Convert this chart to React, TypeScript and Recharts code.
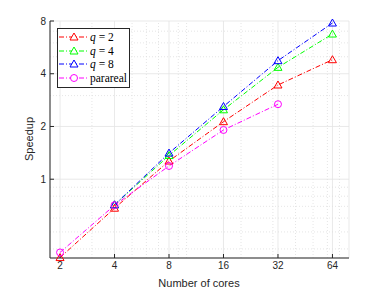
import React from "react";
import {
  LineChart,
  Line,
  XAxis,
  YAxis,
  CartesianGrid,
  ReferenceLine,
  Legend,
} from "recharts";

const cores = [2, 4, 8, 16, 32, 64];
const q2 = [0.357, 0.683, 1.27, 2.13, 3.45, 4.81];
const q4 = [null, 0.714, 1.365, 2.49, 4.35, 6.74];
const q8 = [null, 0.714, 1.41, 2.6, 4.75, 7.79];
const parareal = [0.382, 0.71, 1.19, 1.91, 2.68, null];

const yTicks = [1, 2, 4, 8];
const xMinor = [3, 5, 6, 7, 9, 10, 20, 30, 40, 50, 60, 70];
const yMinor = [0.4, 0.5, 0.6, 0.7, 0.8, 0.9, 3, 5, 6, 7];

const series = [
  { key: "q2", name: "2", color: "#ff0000", marker: "tri" },
  { key: "q4", name: "4", color: "#00ff00", marker: "tri" },
  { key: "q8", name: "8", color: "#0000ff", marker: "tri" },
  { key: "parareal", name: "parareal", color: "#ff00ff", marker: "circ" },
];

const data = cores.map((c, i) => ({
  cores: c,
  q2: q2[i],
  q4: q4[i],
  q8: q8[i],
  parareal: parareal[i],
}));

const AX = "#262626";
const DASH = "5 2 1 2";
const SANS = "'Liberation Sans', Arial, sans-serif";
const SERIF = "'Liberation Serif', 'Times New Roman', serif";

function marker(kind: string, color: string) {
  return (props: any) => {
    const { cx, cy, value, index } = props;
    if (value == null || cx == null || cy == null) return <g key={index} />;
    if (kind === "circ")
      return <circle key={index} cx={cx} cy={cy} r={3.5} fill="none" stroke={color} strokeWidth={1} />;
    return (
      <polygon
        key={index}
        points={`${cx},${cy - 4} ${cx - 4},${cy + 3} ${cx + 4},${cy + 3}`}
        fill="none"
        stroke={color}
        strokeWidth={1}
      />
    );
  };
}

function LegendBox() {
  return (
    <div
      style={{
        border: `1px solid ${AX}`,
        background: "#fff",
        width: 73,
        padding: "1px 0 2px 0",
        boxSizing: "border-box",
      }}
    >
      {series.map((s) => (
        <div key={s.key} style={{ display: "flex", alignItems: "center", height: 13.8 }}>
          <svg width={31} height={12} style={{ flex: "none" }}>
            <line x1={1} x2={29} y1={6} y2={6} stroke={s.color} strokeDasharray={DASH} />
            {s.marker === "tri" ? (
              <polygon points="16,2 12,9 20,9" fill="#fff" stroke={s.color} />
            ) : (
              <circle cx={16} cy={6} r={3.5} fill="#fff" stroke={s.color} />
            )}
          </svg>
          <span
            style={{
              fontFamily: SERIF,
              fontSize: 11.5,
              color: "#000",
              whiteSpace: "nowrap",
              marginLeft: 1,
            }}
          >
            {s.marker === "tri" ? (
              <>
                <i>q</i> = {s.name}
              </>
            ) : (
              s.name
            )}
          </span>
        </div>
      ))}
    </div>
  );
}

export default function App() {
  const tickStyle = { fontSize: 10, fill: AX, fontFamily: SANS };
  return (
    <div style={{ position: "absolute", left: 0, top: 0, background: "#fff" }}>
      <LineChart width={386} height={290} data={data} margin={{ top: 21, right: 37, bottom: 0, left: 0 }}>
        <CartesianGrid stroke="#e3e3e3" strokeWidth={0.8} />
        {xMinor.map((v) => (
          <ReferenceLine key={"x" + v} x={v} stroke="#dedede" strokeDasharray="1 2" strokeWidth={0.8} />
        ))}
        {yMinor.map((v) => (
          <ReferenceLine key={"y" + v} y={v} stroke="#dedede" strokeDasharray="1 2" strokeWidth={0.8} />
        ))}
        <XAxis
          dataKey="cores"
          type="number"
          scale="log"
          domain={[1.76, 79]}
          ticks={cores}
          height={32}
          tickSize={-4}
          tickMargin={8}
          stroke={AX}
          tick={tickStyle}
          label={{
            content: () => (
              <text x={199} y={287} textAnchor="middle" fontSize={11} fill={AX} fontFamily={SANS}>
                Number of cores
              </text>
            ),
          }}
        />
        <XAxis
          xAxisId="top"
          orientation="top"
          dataKey="cores"
          type="number"
          scale="log"
          domain={[1.76, 79]}
          ticks={cores}
          height={0}
          tickSize={-4}
          tick={false}
          stroke={AX}
        />
        <YAxis
          type="number"
          scale="log"
          domain={[0.355, 8]}
          ticks={yTicks}
          width={50}
          tickSize={-4}
          tickMargin={8}
          stroke={AX}
          tick={tickStyle}
          label={{
            content: () => (
              <text
                x={0}
                y={0}
                transform="translate(33,139) rotate(-90)"
                textAnchor="middle"
                fontSize={11}
                fill={AX}
                fontFamily={SANS}
              >
                Speedup
              </text>
            ),
          }}
        />
        <YAxis
          yAxisId="right"
          orientation="right"
          type="number"
          scale="log"
          domain={[0.355, 8]}
          ticks={yTicks}
          width={0}
          tickSize={-4}
          tick={false}
          stroke={AX}
        />
        {series.map((s) => (
          <Line
            key={s.key}
            dataKey={s.key}
            name={s.name}
            stroke={s.color}
            strokeWidth={1}
            strokeDasharray={DASH}
            dot={marker(s.marker, s.color)}
            activeDot={false}
            isAnimationActive={false}
          />
        ))}
        <Legend
          layout="vertical"
          align="center"
          verticalAlign="middle"
          content={() => <LegendBox />}
          wrapperStyle={{ position: "absolute", left: 57, top: 28, width: 73 }}
        />
      </LineChart>
    </div>
  );
}
